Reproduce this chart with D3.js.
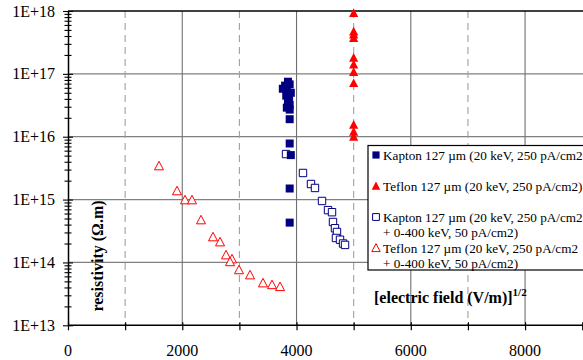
<!DOCTYPE html>
<html><head><meta charset="utf-8">
<script src="https://cdn.jsdelivr.net/npm/d3@7/dist/d3.min.js"></script>
<style>
body{margin:0;background:#fff}
svg{display:block}
text{font-family:"Liberation Serif","Times New Roman",serif;fill:#000}
</style>
</head><body>
<svg id="chart" width="583" height="360"></svg>
<script>
// ---- data ----
const xTickValues = [0, 2000, 4000, 6000, 8000];
const yTickValues = [1e13, 1e14, 1e15, 1e16, 1e17, 1e18];
const yTickLabels = ["1E+13", "1E+14", "1E+15", "1E+16", "1E+17", "1E+18"];

const seriesNames = [
  ["Kapton 127 \u00b5m (20 keV, 250 pA/cm2"],
  ["Teflon 127 \u00b5m (20 keV, 250 pA/cm2)"],
  ["Kapton 127 \u00b5m (20 keV, 250 pA/cm2", "+ 0-400 keV, 50 pA/cm2)"],
  ["Teflon 127 \u00b5m (20 keV, 250 pA/cm2", "+ 0-400 keV, 50 pA/cm2)"]
];

// Kapton, 20 keV (filled squares)
const kaptonX = [3850, 3800, 3880, 3760, 3830, 3900, 3820, 3870, 3850, 3880, 3830, 3880, 3880, 3880, 3900, 3880, 3880];
const kaptonY = [7.5e16, 6.5e16, 6.8e16, 5.8e16, 5.5e16, 5.0e16, 4.5e16, 4.2e16, 3.6e16, 3.2e16, 2.9e16, 2.7e16, 1.9e16, 7.8e15, 5.1e15, 1.5e15, 4.3e14];

// Teflon, 20 keV (filled triangles)
const teflonX = [5000, 5000, 5000, 5000, 5000, 5000, 5000, 5000, 5000, 5000, 5000];
const teflonY = [9.3e17, 4.7e17, 4.2e17, 3.7e17, 1.8e17, 1.4e17, 1.07e17, 7.1e16, 1.55e16, 1.2e16, 1.0e16];

// Kapton, 20 keV + 0-400 keV (open squares)
const kaptonMixX = [3816, 4113, 4253, 4323, 4446, 4551, 4621, 4638, 4673, 4708, 4690, 4761, 4814, 4849];
const kaptonMixY = [5.3e15, 2.65e15, 1.77e15, 1.53e15, 9.5e14, 6.8e14, 6.3e14, 4.4e14, 3.5e14, 3.05e14, 2.45e14, 2.3e14, 2.0e14, 1.9e14];

// Teflon, 20 keV + 0-400 keV (open triangles)
const teflonMixX = [1593, 1908, 2048, 2170, 2328, 2538, 2661, 2766, 2871, 2836, 2993, 3186, 3413, 3571, 3711];
const teflonMixY = [3.42e15, 1.37e15, 9.85e14, 9.85e14, 4.73e14, 2.54e14, 2.11e14, 1.31e14, 1.13e14, 1.02e14, 7.6e13, 6.3e13, 4.7e13, 4.4e13, 4.1e13];

// ---- drawing ----
const NAVY = "#000080", RED = "#ff0000";
const svg = d3.select("#chart");
const x = d3.scaleLinear().domain([0, 9000]).range([68, 582.2]);
const y = d3.scaleLog().domain([1e13, 1e18]).range([325.3, 11]);

// grid
const grid = svg.append("g");
grid.selectAll("line.h").data(yTickValues.slice(1, -1)).join("line")
  .attr("x1", x(0)).attr("x2", 583).attr("y1", d => y(d)).attr("y2", d => y(d))
  .attr("stroke", "#808080").attr("stroke-width", 1.2);
grid.selectAll("line.v").data(d3.range(1000, 9000, 1000)).join("line")
  .attr("x1", d => x(d)).attr("x2", d => x(d)).attr("y1", y(1e18)).attr("y2", y(1e13))
  .attr("stroke", d => d % 2000 === 0 ? "#707070" : "#a0a0a0")
  .attr("stroke-width", 1.1)
  .attr("stroke-dasharray", d => d % 2000 === 0 ? null : "7,5");
// top border
svg.append("line").attr("x1", x(0)).attr("x2", 583).attr("y1", y(1e18)).attr("y2", y(1e18))
  .attr("stroke", "#000").attr("stroke-width", 1.3);

// x axis
const xAxis = svg.append("g").attr("transform", `translate(0,${y(1e13)})`)
  .call(d3.axisBottom(x).tickValues(d3.range(0, 9001, 1000)).tickSize(5).tickSizeOuter(0).tickFormat(""));
xAxis.select(".domain").attr("stroke", "#000").attr("stroke-width", 1.5).attr("d", `M${x(0)},0H583`);
xAxis.selectAll(".tick line").attr("y1", -3).attr("y2", 5).attr("stroke", "#000").attr("stroke-width", 1.2);
svg.append("g").selectAll("text").data(xTickValues).join("text")
  .attr("x", d => x(d)).attr("y", 356).attr("text-anchor", "middle")
  .style("font-size", "16px").text(d => d);

// y axis (log with minor ticks)
const yAll = [];
for (let e = 13; e < 18; e++) for (let m = 1; m < 10; m++) yAll.push(m * Math.pow(10, e));
yAll.push(1e18);
const yAxis = svg.append("g").attr("transform", `translate(${x(0)},0)`)
  .call(d3.axisLeft(y).tickValues(yAll).tickSize(4).tickSizeOuter(0).tickFormat(""));
yAxis.select(".domain").attr("stroke", "#000").attr("stroke-width", 1.5);
yAxis.selectAll(".tick line")
  .attr("x1", d => yTickValues.includes(d) ? -5 : -3.5)
  .attr("x2", d => yTickValues.includes(d) ? 5 : 3.5)
  .attr("stroke", "#000").attr("stroke-width", 1.1);
svg.append("g").selectAll("text").data(yTickValues).join("text")
  .attr("x", 55).attr("y", d => y(d) + 5.5).attr("text-anchor", "end")
  .style("font-size", "16px").text((d, i) => yTickLabels[i]);

// axis titles
svg.append("text").attr("transform", "translate(103,256) rotate(-90)")
  .attr("text-anchor", "middle").style("font-size", "16px").style("font-weight", "bold")
  .text("resistivity (\u03a9.m)");
const xt = svg.append("text").attr("x", 374).attr("y", 303)
  .style("font-size", "16px").style("font-weight", "bold");
xt.append("tspan").text("[electric field (V/m)]");
xt.append("tspan").attr("dy", -7).style("font-size", "11px").text("1/2");

// markers
const sq = s => `M${-s},${-s}H${s}V${s}H${-s}Z`;
const tri = s => `M0,${-s * 1.05}L${s},${s * 0.85}L${-s},${s * 0.85}Z`;

function plot(xs, ys, path, fill, stroke, sw) {
  svg.append("g").selectAll("path").data(xs.map((v, i) => [v, ys[i]])).join("path")
    .attr("transform", d => `translate(${x(d[0])},${y(d[1])})`)
    .attr("d", path).attr("fill", fill).attr("stroke", stroke).attr("stroke-width", sw);
}
plot(teflonMixX, teflonMixY, tri(4.5), "#fff", RED, 1);
plot(kaptonMixX, kaptonMixY, sq(3.7), "#fff", NAVY, 1);
plot(kaptonX, kaptonY, sq(4), NAVY, "none", 0);
plot(teflonX, teflonY, tri(4.6), RED, "none", 0);

// legend
const lg = svg.append("g");
lg.append("rect").attr("x", 368).attr("y", 145.5).attr("width", 240).attr("height", 124.5)
  .attr("fill", "#fff").attr("stroke", "#000").attr("stroke-width", 1.2);
const legendRows = [
  {y: 155, path: sq(3.6), fill: NAVY, stroke: "none"},
  {y: 186, path: tri(4.3), fill: RED, stroke: "none"},
  {y: 217, path: sq(3.4), fill: "#fff", stroke: NAVY},
  {y: 248, path: tri(4.2), fill: "#fff", stroke: RED}
];
legendRows.forEach((r, i) => {
  lg.append("path").attr("transform", `translate(376,${r.y})`).attr("d", r.path)
    .attr("fill", r.fill).attr("stroke", r.stroke).attr("stroke-width", 1);
  seriesNames[i].forEach((t, j) => {
    lg.append("text").attr("x", 383).attr("y", r.y + 4.5 + j * 15)
      .style("font-size", "13.2px").text(t);
  });
});
</script>
</body></html>
